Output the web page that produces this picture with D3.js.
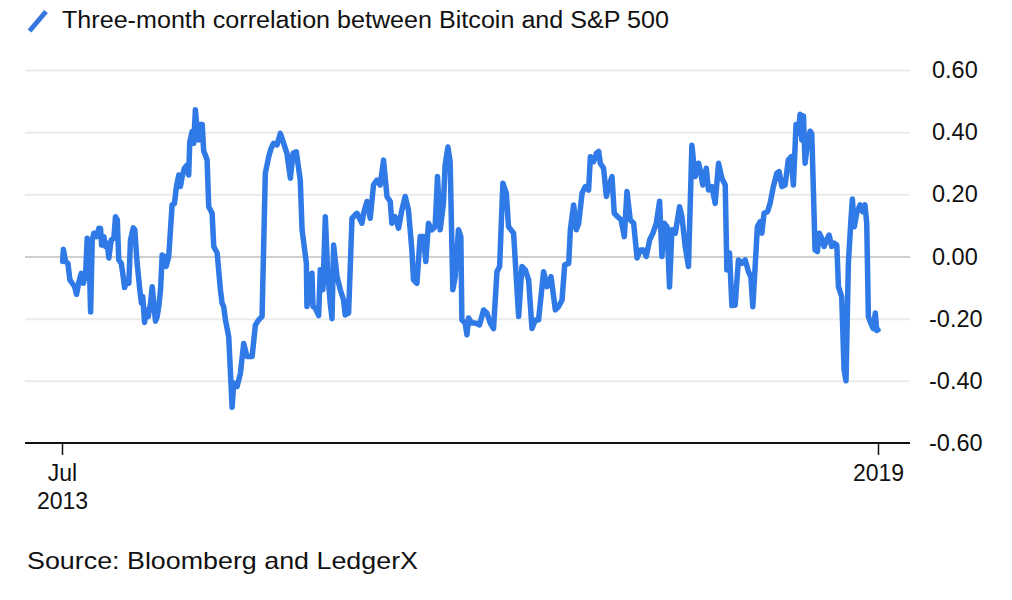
<!DOCTYPE html>
<html>
<head>
<meta charset="utf-8">
<script src="https://cdn.jsdelivr.net/npm/d3@7"></script>
<style>
  html, body { margin: 0; padding: 0; background: #ffffff; }
  svg { display: block; font-family: "Liberation Sans", Arial, sans-serif; }
</style>
</head>
<body>
<svg id="chart" width="1012" height="600"></svg>
<script>
// ---- data ----
const titleText = "Three-month correlation between Bitcoin and S&P 500";
const sourceText = "Source: Bloomberg and LedgerX";
const yTickValues = [0.6, 0.4, 0.2, 0, -0.2, -0.4, -0.6];
const xTickDates = ["2013-07-01", "2019-01-01"];
const xTickLabels = [["Jul", "2013"], ["2019"]];

// decimal-year dates of the series points
const years = [
2013.500,2013.505,2013.520,2013.536,2013.549,2013.565,2013.581,2013.594,2013.610,2013.626,
2013.640,2013.655,2013.666,2013.677,2013.689,2013.700,2013.711,2013.729,2013.745,2013.756,
2013.763,2013.778,2013.790,2013.801,2013.812,2013.828,2013.846,2013.857,2013.869,2013.879,
2013.896,2013.909,2013.918,2013.936,2013.947,2013.958,2013.977,2013.987,2014.003,2014.021,
2014.032,2014.041,2014.053,2014.066,2014.078,2014.093,2014.105,2014.115,2014.127,2014.138,
2014.149,2014.161,2014.172,2014.187,2014.199,2014.216,2014.228,2014.239,2014.255,2014.268,
2014.284,2014.295,2014.307,2014.322,2014.340,2014.351,2014.358,2014.374,2014.385,2014.396,
2014.408,2014.419,2014.430,2014.442,2014.452,2014.475,2014.486,2014.509,2014.520,2014.543,
2014.565,2014.576,2014.587,2014.599,2014.621,2014.644,2014.655,2014.678,2014.700,2014.722,
2014.745,2014.779,2014.801,2014.823,2014.846,2014.868,2014.891,2014.907,2014.924,2014.947,
2014.969,2014.992,2015.014,2015.037,2015.055,2015.077,2015.104,2015.116,2015.145,2015.149,
2015.167,2015.183,2015.190,2015.205,2015.228,2015.239,2015.257,2015.273,2015.288,2015.306,
2015.318,2015.329,2015.352,2015.374,2015.396,2015.407,2015.430,2015.453,2015.486,2015.520,
2015.531,2015.554,2015.576,2015.598,2015.621,2015.643,2015.666,2015.689,2015.711,2015.722,
2015.744,2015.767,2015.790,2015.812,2015.834,2015.857,2015.868,2015.891,2015.913,2015.935,
2015.951,2015.969,2015.992,2016.014,2016.030,2016.048,2016.070,2016.081,2016.100,2016.115,
2016.133,2016.149,2016.171,2016.187,2016.194,2016.216,2016.228,2016.239,2016.261,2016.284,
2016.313,2016.340,2016.362,2016.385,2016.407,2016.430,2016.448,2016.470,2016.493,2016.508,
2016.542,2016.565,2016.576,2016.598,2016.621,2016.643,2016.666,2016.688,2016.710,2016.744,
2016.767,2016.794,2016.823,2016.845,2016.868,2016.886,2016.913,2016.924,2016.946,2016.964,
2016.980,2017.003,2017.025,2017.047,2017.059,2017.081,2017.099,2017.115,2017.126,2017.148,
2017.167,2017.182,2017.205,2017.220,2017.243,2017.266,2017.288,2017.306,2017.328,2017.351,
2017.374,2017.396,2017.418,2017.436,2017.459,2017.481,2017.504,2017.526,2017.542,2017.557,
2017.576,2017.593,2017.609,2017.632,2017.661,2017.677,2017.699,2017.721,2017.744,2017.766,
2017.789,2017.800,2017.818,2017.841,2017.856,2017.879,2017.901,2017.924,2017.946,2017.969,
2017.980,2017.998,2018.014,2018.036,2018.058,2018.081,2018.104,2018.126,2018.142,2018.155,
2018.171,2018.186,2018.205,2018.216,2018.231,2018.254,2018.272,2018.294,2018.317,2018.333,
2018.351,2018.373,2018.395,2018.414,2018.429,2018.447,2018.463,2018.474,2018.486,2018.497,
2018.508,2018.523,2018.542,2018.553,2018.564,2018.575,2018.591,2018.604,2018.620,2018.636,
2018.654,2018.670,2018.688,2018.703,2018.722,2018.733,2018.755,2018.771,2018.784,2018.800,
2018.816,2018.827,2018.840,2018.856,2018.879,2018.897,2018.912,2018.924,2018.935,2018.951,
2018.968,2018.982,2018.991,2019.000
];

// three-month correlation values
const correlation = [
-0.016,0.023,-0.016,-0.022,-0.075,-0.086,-0.097,-0.122,-0.081,-0.054,
-0.086,-0.059,0.059,0.043,-0.178,0.053,0.075,0.064,0.091,0.090,
0.037,0.064,0.032,0.043,-0.005,0.053,0.059,0.128,0.118,-0.011,
-0.022,-0.065,-0.100,-0.075,-0.086,0.053,0.092,0.086,-0.022,-0.107,
-0.150,-0.129,-0.212,-0.172,-0.193,-0.150,-0.097,-0.150,-0.208,-0.193,
-0.161,-0.107,0.005,0.000,-0.032,0.000,0.086,0.166,0.171,0.225,
0.262,0.225,0.257,0.284,0.294,0.262,0.369,0.402,0.364,0.472,
0.407,0.375,0.425,0.425,0.340,0.311,0.160,0.139,0.032,0.011,
-0.107,-0.150,-0.161,-0.204,-0.258,-0.485,-0.407,-0.418,-0.375,-0.280,
-0.322,-0.322,-0.220,-0.204,-0.193,0.268,0.321,0.348,0.364,0.359,
0.396,0.364,0.332,0.252,0.332,0.337,0.246,0.086,-0.022,-0.161,
-0.097,-0.054,-0.161,-0.166,-0.190,-0.043,-0.107,0.128,-0.043,-0.150,
-0.200,0.037,-0.065,-0.107,-0.140,-0.188,-0.182,0.123,0.139,0.107,
0.139,0.177,0.123,0.230,0.246,0.230,0.310,0.193,0.177,0.107,
0.128,0.091,0.150,0.193,0.150,0.021,-0.075,-0.086,0.064,0.064,
-0.016,0.107,0.086,0.096,0.257,0.086,0.171,0.294,0.352,0.305,
-0.107,-0.065,0.086,0.064,-0.204,-0.214,-0.252,-0.198,-0.214,-0.214,
-0.220,-0.172,-0.182,-0.214,-0.232,-0.049,-0.032,0.236,0.204,0.096,
0.075,-0.107,-0.193,-0.032,-0.043,-0.075,-0.232,-0.204,-0.204,-0.049,
-0.097,-0.065,-0.172,-0.161,-0.140,-0.027,-0.022,0.086,0.166,0.086,
0.107,0.204,0.225,0.214,0.321,0.305,0.332,0.338,0.300,0.284,
0.193,0.225,0.257,0.139,0.128,0.118,0.064,0.209,0.118,0.107,
-0.005,0.021,0.021,0.000,0.053,0.075,0.107,0.178,0.000,0.107,
0.096,-0.098,0.086,0.075,0.160,0.128,0.032,-0.032,0.358,0.257,
0.300,0.278,0.230,0.284,0.214,0.225,0.171,0.300,0.252,0.230,
-0.043,0.011,-0.158,-0.156,-0.011,-0.022,-0.011,-0.049,-0.065,-0.162,
-0.032,0.096,0.112,0.075,0.139,0.144,0.171,0.225,0.268,0.273,
0.225,0.230,0.311,0.321,0.230,0.425,0.396,0.458,0.375,0.452,
0.300,0.364,0.403,0.396,0.214,0.021,0.016,0.075,0.059,0.032,
0.053,0.069,0.032,0.043,0.037,-0.097,-0.129,-0.365,-0.400,-0.022,
0.107,0.185,0.096,0.139,0.166,0.144,0.166,0.107,-0.193,-0.214,
-0.232,-0.182,-0.238,-0.236
];

// ---- helpers ----
function yearToDate(y) {
  const yr = Math.floor(y);
  const start = Date.UTC(yr, 0, 1), end = Date.UTC(yr + 1, 0, 1);
  return new Date(start + (y - yr) * (end - start));
}
const series = years.map((y, i) => ({ date: yearToDate(y), value: correlation[i] }));

// ---- drawing ----
const svg = d3.select("#chart");
const W = 1012, H = 600;
const plotLeft = 25, plotRight = 910;
const ink = "#111111";
const FONT = "'Liberation Sans', Arial, sans-serif";

const x = d3.scaleUtc()
  .domain([new Date(Date.UTC(2013, 6, 1)), new Date(Date.UTC(2019, 0, 1))])
  .range([62, 878]);
const y = d3.scaleLinear().domain([-0.6, 0.6]).range([443, 70]);

svg.append("rect").attr("width", W).attr("height", H).attr("fill", "#ffffff");

// title with icon
svg.append("line")
  .attr("x1", 29.5).attr("y1", 31).attr("x2", 46).attr("y2", 11.5)
  .attr("stroke", "#3577df").attr("stroke-width", 5);
svg.append("text")
  .attr("x", 62).attr("y", 28)
  .attr("font-size", 23).attr("fill", ink)
  .attr("textLength", 607).attr("lengthAdjust", "spacingAndGlyphs")
  .text(titleText);

// gridlines
const grid = svg.append("g").attr("transform", `translate(${plotLeft},0)`)
  .call(d3.axisRight(y).tickValues(yTickValues.filter(v => v > -0.6))
    .tickSize(plotRight - plotLeft).tickFormat(""));
grid.select(".domain").remove();
grid.selectAll(".tick line")
  .attr("stroke", d => d === 0 ? "#cfcfcf" : "#ebebeb")
  .attr("stroke-width", 2);

// y labels
const fmt = d3.format(".2f");
const yLab = svg.append("g").attr("transform", "translate(930,0)")
  .call(d3.axisRight(y).tickValues(yTickValues).tickSize(0).tickPadding(0)
    .tickFormat(d => fmt(d).replace("\u2212", "-")));
yLab.select(".domain").remove();
yLab.selectAll("text")
  .attr("font-family", FONT)
  .attr("font-size", 23.5).attr("fill", ink)
  .attr("x", d => d < 0 ? -1 : 2);

// x axis
const xAxis = svg.append("g").attr("transform", `translate(0,${y(-0.6)})`)
  .call(d3.axisBottom(x).tickValues(xTickDates.map(s => new Date(s + "T00:00:00Z")))
    .tickSize(12).tickFormat(""));
xAxis.select(".domain").remove();
xAxis.selectAll(".tick line").attr("stroke", ink).attr("stroke-width", 1.5);
xAxis.append("line")
  .attr("x1", plotLeft).attr("x2", plotRight).attr("y1", 0).attr("y2", 0)
  .attr("stroke", ink).attr("stroke-width", 2);
xAxis.selectAll(".tick").each(function(d, i) {
  const t = d3.select(this).append("text")
    .attr("text-anchor", "middle").attr("fill", ink)
    .attr("font-family", FONT)
    .attr("font-size", 23);
  xTickLabels[i].forEach((s, k) => {
    t.append("tspan").attr("x", 0).attr("y", 38 + k * 28).text(s);
  });
});

// line
svg.append("path")
  .datum(series)
  .attr("fill", "none")
  .attr("stroke", "#2f7ae6")
  .attr("stroke-width", 5.5)
  .attr("stroke-linejoin", "round")
  .attr("stroke-linecap", "round")
  .attr("d", d3.line().x(d => x(d.date)).y(d => y(d.value)));

// source
svg.append("text")
  .attr("x", 27).attr("y", 569)
  .attr("font-size", 24).attr("fill", ink)
  .attr("textLength", 391).attr("lengthAdjust", "spacingAndGlyphs")
  .text(sourceText);
</script>
</body>
</html>
